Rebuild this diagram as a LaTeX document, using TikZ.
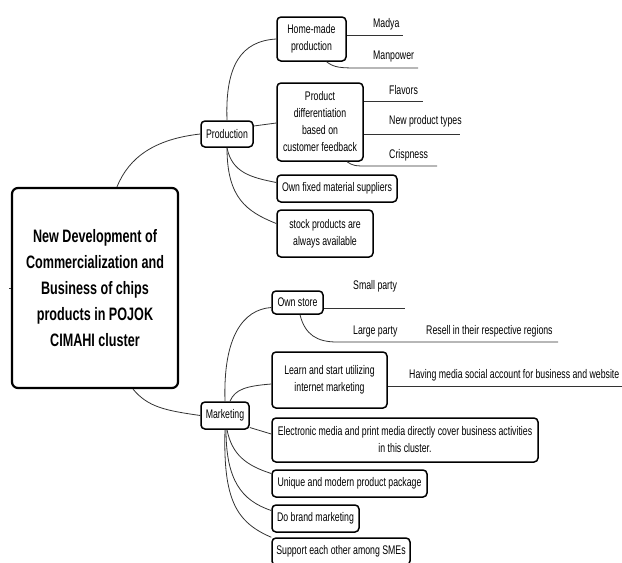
\documentclass[tikz,border=0pt]{standalone}
\usepackage{fontspec}
\setmainfont{Liberation Sans}[FakeStretch=0.7]
\usetikzlibrary{calc}
\definecolor{LinkClr}{rgb}{0.2,0.2,0.2}
\tikzset{
  topic/.style={draw,line width=1.5pt,rounded corners=4pt,fill=white,align=center,
    inner sep=1pt,font=\fontsize{12.5}{17}\selectfont},
  root/.style={topic,line width=2.2pt,rounded corners=6pt,
    font=\bfseries\fontsize{18}{26}\selectfont},
  leaf/.style={anchor=west,inner sep=0pt,font=\fontsize{12.5}{17}\selectfont},
  link/.style={draw=LinkClr,line width=0.8pt}
}

\begin{document}
\begin{tikzpicture}[x=1pt,y=-1pt]
\clip (0,0) rectangle (622,563);

\node[root,minimum width=166pt,minimum height=200pt] (main) at (95,288)
  {New Development of\\Commercialization and\\Business of chips\\products in POJOK\\CIMAHI cluster};
\coordinate (stub) at (9,288);

\node[topic,minimum width=52pt,minimum height=26pt] (prod) at (227,134) {Production};
\node[topic,minimum width=48pt,minimum height=27pt] (mark) at (225,415.5) {Marketing};

\node[topic,minimum width=69pt,minimum height=44pt] (home) at (311.5,39) {Home-made\\production};
\node[topic,minimum width=86pt,minimum height=78pt] (diff) at (320,122)
  {Product\\differentiation\\based on\\customer feedback};
\node[topic,minimum width=120pt,minimum height=27pt] (fixed) at (337,188.5) {Own fixed material suppliers};
\node[topic,minimum width=96pt,minimum height=47pt] (stock) at (325,233.5) {stock products are\\always available};

\node[topic,minimum width=51pt,minimum height=23pt] (store) at (297.5,302.5) {Own store};
\node[topic,minimum width=115pt,minimum height=56pt] (learn) at (329.5,380) {Learn and start utilizing\\internet marketing};
\node[topic,minimum width=266pt,minimum height=44pt] (elec) at (405,440)
  {Electronic media and print media directly cover business activities\\in this cluster.};
\node[topic,minimum width=155pt,minimum height=27pt] (uniq) at (349.5,483.5) {Unique and modern product package};
\node[topic,minimum width=87pt,minimum height=27pt] (brand) at (315.5,518.5) {Do brand marketing};
\node[topic,minimum width=138pt,minimum height=27pt] (supp) at (341,551.5) {Support each other among SMEs};

\node[leaf] (madya) at (373,24) {Madya};
\node[leaf] (manp) at (373,56) {Manpower};
\node[leaf] (flav) at (389,90) {Flavors};
\node[leaf] (types) at (389,121.5) {New product types};
\node[leaf] (crisp) at (389,155.5) {Crispness};
\node[leaf] (small) at (353,286.5) {Small party};
\node[leaf] (large) at (353,331) {Large party};
\node[leaf] (resell) at (426,331) {Resell in their respective regions};
\node[leaf] (media) at (409,375) {Having media social account for business and website};

\coordinate (madyaEnd) at (403,35);
\coordinate (manpBend) at (360,68);
\coordinate (manpEnd) at (418,68);
\coordinate (flavEnd) at (423,101);
\coordinate (typesEnd) at (460,134);
\coordinate (crispBend) at (367,166);
\coordinate (crispEnd) at (437,166);
\coordinate (smallEnd) at (405,308);
\coordinate (largeBend) at (337,342);
\coordinate (largeEnd) at (558,342);
\coordinate (mediaEnd) at (640,386);

\draw[link] (main.west) -- (stub);
\draw[link] ($(main.north)+(22,0)$) .. controls +(12,-30) and +(-45,5) .. (prod.west);
\draw[link] ($(main.south)+(38,0)$) .. controls +(15,18) and +(-35,-5) .. (mark.west);

\draw[link] (prod.north) .. controls +(-2,-55) and +(-35,2) .. (home.west);
\draw[link] ($(prod.east)+(0,-8)$) -- ($(diff.west)+(0,1)$);
\draw[link] (prod.south) .. controls +(5,25) and +(-25,-5) .. ($(fixed.west)+(0,-6)$);
\draw[link] (prod.south) .. controls +(0,50) and +(-30,-12) .. ($(stock.west)+(0,-10)$);

\draw[link] (home.east |- madyaEnd) -- (madyaEnd);
\draw[link] ($(home.south)+(15,0)$) .. controls +(8,6) and +(-20,0) .. (manpBend) -- (manpEnd);
\draw[link] (diff.east |- flavEnd) -- (flavEnd);
\draw[link] (diff.east |- typesEnd) -- (typesEnd);
\draw[link] ($(diff.south)+(27,0)$) .. controls +(6,4) and +(-12,0) .. (crispBend) -- (crispEnd);

\draw[link] (mark.north) .. controls +(-2,-65) and +(-28,2) .. ($(store.west)+(0,5)$);
\draw[link] ($(mark.north)+(5,0)$) .. controls +(5,-12) and +(-25,2) .. ($(learn.west)+(0,4)$);
\draw[link] ($(mark.east)+(0,12)$) -- ($(elec.west)+(0,-6)$);
\draw[link] ($(mark.south)+(2,0)$) .. controls +(5,25) and +(-25,-8) .. ($(uniq.west)+(0,-10)$);
\draw[link] ($(mark.south)+(1,0)$) .. controls +(0,50) and +(-30,-10) .. ($(brand.west)+(0,-8)$);
\draw[link] (mark.south) .. controls +(-2,70) and +(-35,-15) .. (supp.north west);

\draw[link] (store.east |- smallEnd) -- (smallEnd);
\draw[link] ($(store.south)+(2.5,0)$) .. controls +(5,20) and +(-20,0) .. (largeBend) -- (largeEnd);
\draw[link] (learn.east |- mediaEnd) -- (mediaEnd);

\end{tikzpicture}
\end{document}
